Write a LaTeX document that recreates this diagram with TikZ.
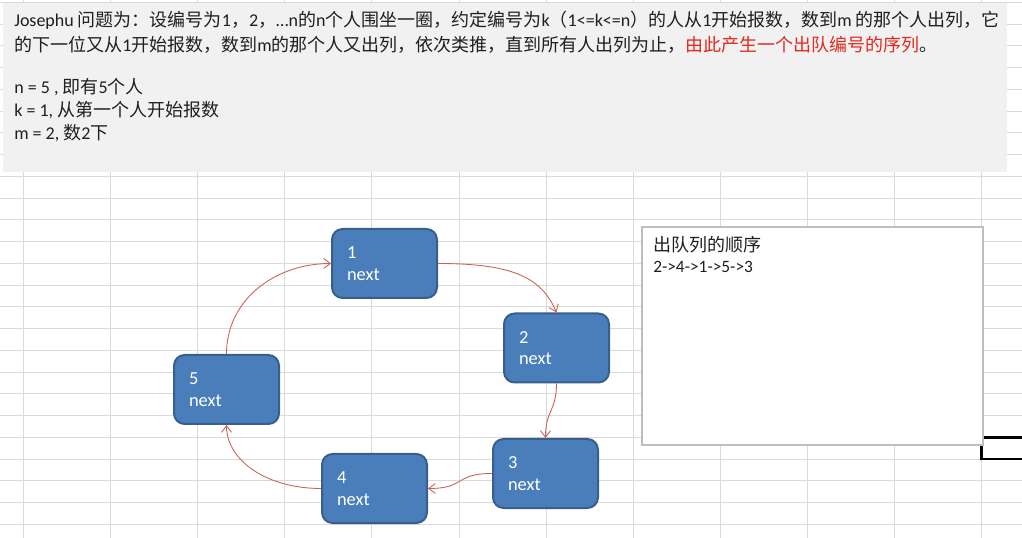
\documentclass[tikz,border=0pt]{standalone}
\usepackage{fontspec}
\setmainfont{Carlito}
\newfontfamily\cjk{Noto Sans CJK SC}
\usetikzlibrary{positioning,arrows.meta}
\definecolor{boxfill}{RGB}{74,126,187}
\definecolor{boxedge}{RGB}{56,94,140}
\definecolor{linkred}{RGB}{204,96,84}
\definecolor{gridgray}{RGB}{218,218,218}
\definecolor{notegray}{RGB}{240,241,240}
\definecolor{hired}{RGB}{228,40,30}
\definecolor{framegray}{RGB}{190,190,190}
\newcommand{\zh}[1]{{\cjk #1}}

\begin{document}
\begin{tikzpicture}[x=0.75pt,y=-0.75pt,
    person/.style={draw=boxedge, fill=boxfill, line width=1.5pt, rounded corners=8pt, text=white, font=\fontsize{13.8}{16}\selectfont, align=left, text width=56.25pt, inner xsep=11.25pt, minimum height=51.75pt},
    link/.style={draw=linkred, line width=0.65pt, -{Straight Barb[length=5pt,width=7.5pt]}},
    txt/.style={anchor=base west, inner sep=0pt, font=\fontsize{13.5}{16}\selectfont, text=black!88}
]

\useasboundingbox (0,0) rectangle (1022,538);

% --- spreadsheet grid ---
\foreach \gx in {0,...,11}
  \draw[gridgray, line width=0.75pt] (23.5+87.1*\gx,0) -- (23.5+87.1*\gx,538);
\foreach \gy in {0,...,24}
  \draw[gridgray, line width=0.75pt] (0,2.5+21.75*\gy) -- (1022,2.5+21.75*\gy);

% --- problem statement ---
\fill[notegray] (3,3) rectangle (1007,172);
\node[txt] (line1) at (14,26.5) {Josephu \zh{问题为：设编号为}1\zh{，}2\zh{，}…n\zh{的}n\zh{个人围坐一圈，约定编号为}k\zh{（}1<=k<=n\zh{）的人从}1\zh{开始报数，数到}m \zh{的那个人出列，它}};
\node[txt] (line2) at (14,51.5) {\zh{的下一位又从}1\zh{开始报数，数到}m\zh{的那个人又出列，依次类推，直到所有人出列为止，}\textcolor{hired}{\zh{由此产生一个出队编号的序列}}\zh{。}};
\node[txt] (line3) at (14,93.5) {n = 5 , \zh{即有}5\zh{个人}};
\node[txt] (line4) at (14,117) {k = 1, \zh{从第一个人开始报数}};
\node[txt] (line5) at (14,140) {m = 2, \zh{数}2\zh{下}};

% --- selected cell ---
\draw[black, line width=2.2pt] (981.5,437.5) rectangle (1030,459);

% --- output order ---
\node[draw=framegray, fill=white, line width=0.8pt, minimum width=255.75pt, minimum height=163.5pt, inner sep=0pt] (order) at (812.5,336) {};
\node[txt] (ordertitle) at (653,251.5) {\zh{出队列的顺序}};
\node[txt, font=\fontsize{13}{16}\selectfont] (orderseq) at (653,273) {2->4->1->5->3};

% --- circle of persons ---
\node[person] (n1) at (384.5,263.5) {1\\next};
\node[person] (n2) at (556.5,348) {2\\next};
\node[person] (n3) at (545.5,473.5) {3\\next};
\node[person] (n4) at (374.5,488.5) {4\\next};
\node[person] (n5) at (226.5,389.5) {5\\next};

% --- next links ---
\draw[link] (n1.east) .. controls +(75,0) and +(-15,-35) .. (n2.north);
\draw[link] (n2.south) .. controls +(0,28) and +(0,-28) .. (n3.north);
\draw[link] (n3.west) .. controls +(-38,0) and +(38,0) .. (n4.east);
\draw[link] (n4.west) .. controls +(-55,0) and +(0,35) .. (n5.south);
\draw[link] (n5.north) .. controls +(0,-55) and +(-55,0) .. (n1.west);

\end{tikzpicture}
\end{document}
